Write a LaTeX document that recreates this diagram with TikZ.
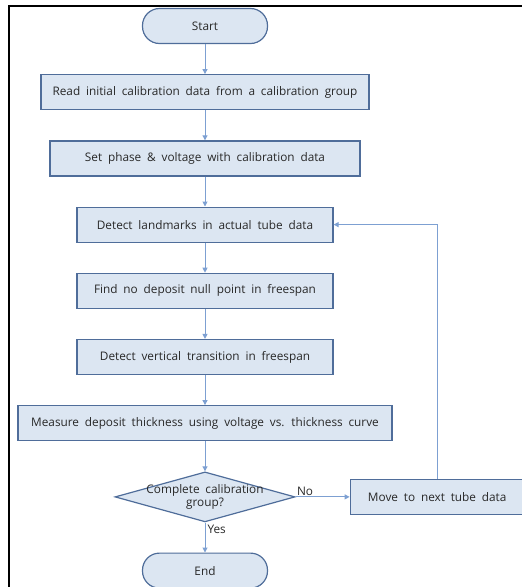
\documentclass[tikz,border=0pt]{standalone}
\usepackage{fontspec}
\setmainfont{Open Sans}[WordSpace=1.9]
\usetikzlibrary{positioning,shapes.geometric,arrows.meta}
\definecolor{boxfill}{RGB}{220,230,242}
\definecolor{boxline}{RGB}{79,109,154}
\definecolor{flowline}{RGB}{125,160,210}
\definecolor{txtgray}{RGB}{40,40,40}

\begin{document}
\begin{tikzpicture}[x=1pt,y=1pt,node distance=30pt,every node/.style={font=\fontsize{11.8}{13.5}\selectfont,text=txtgray},stepbox/.style={draw=boxline,fill=boxfill,line width=1.2pt,minimum height=35pt,inner sep=0pt},terminal/.style={stepbox,rounded corners=17pt,minimum width=125pt,minimum height=35pt},decision/.style={stepbox,diamond,aspect=3.6,minimum width=180pt,minimum height=50pt},flow/.style={draw=flowline,line width=1pt,-{Triangle[width=5pt,length=5pt]}}]
  \useasboundingbox (0,0) rectangle (522,-587);
  \draw[line width=1.2pt] (9,-587) -- (9,-6) -- (522,-6);
  \node[terminal] (start) at (205,-26) {Start};
  \node[stepbox,minimum width=328pt] (read) [below=of start] {Read initial calibration data from a calibration group};
  \node[stepbox,minimum width=310pt] (set) [below=of read] {Set phase \& voltage with calibration data};
  \node[stepbox,minimum width=256pt] (detect) [below=of set] {Detect landmarks in actual tube data};
  \node[stepbox,minimum width=256pt] (null) [below=of detect] {Find no deposit null point in freespan};
  \node[stepbox,minimum width=256pt] (vert) [below=of null] {Detect vertical transition in freespan};
  \node[stepbox,minimum width=374pt] (measure) [below=of vert] {Measure deposit thickness using voltage vs. thickness curve};
  \node[decision,label={[align=center,font=\fontsize{11.8}{13.5}\selectfont]center:Complete calibration\\group?}] (check) [below=of measure] {};
  \node[stepbox,minimum width=174pt] (next) [right=54pt of check] {Move to next tube data};
  \node[terminal] (end) [below=of check] {End};
  \path[flow] (start) -- (read); \path[flow] (read) -- (set); \path[flow] (set) -- (detect);
  \path[flow] (detect) -- (null); \path[flow] (null) -- (vert); \path[flow] (vert) -- (measure);
  \path[flow] (measure) -- (check);
  \path[flow] (check.east) -- node[pos=0,above right,inner sep=1pt] (no) {No} (next);
  \path[flow] (check.south) -- node[pos=0,below right,inner sep=2pt] (yes) {Yes} (end);
  \path[flow] (next.north) |- (detect.east);
\end{tikzpicture}
\end{document}
